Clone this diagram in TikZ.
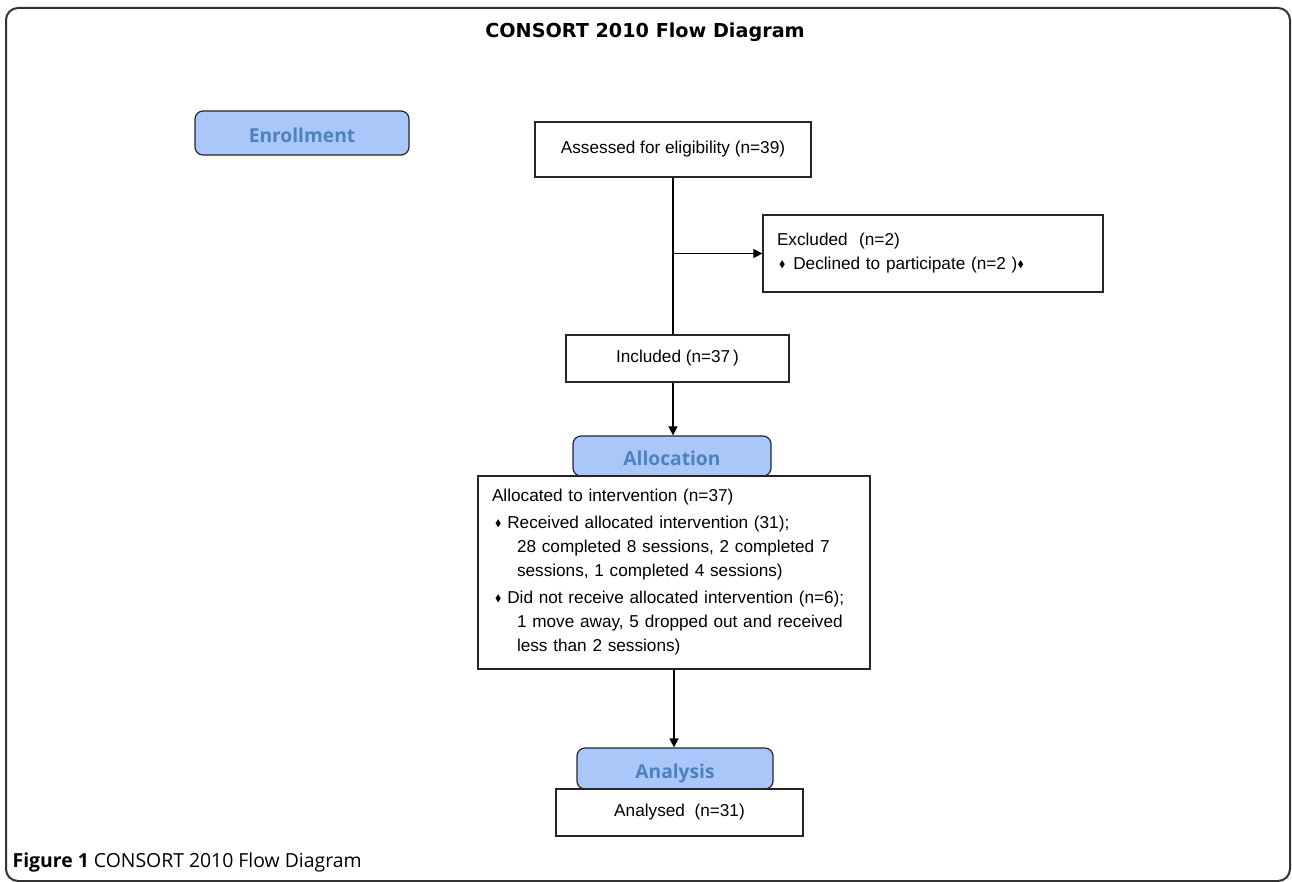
\documentclass[tikz,border=0pt]{standalone}
\usepackage{fontspec}
\usepackage{amssymb}
\setmainfont{Liberation Sans}
\newfontfamily\headfont{Open Sans}
\newfontfamily\titlefont{DejaVu Sans}
\usetikzlibrary{arrows.meta}
\definecolor{stagefill}{RGB}{170,199,250}
\definecolor{stagetext}{RGB}{79,129,189}
\newcommand{\dmd}{\raisebox{0.3ex}{\scalebox{0.55}{$\blacklozenge$}}}

\begin{document}
\begin{tikzpicture}[x=0.5pt,y=-0.5pt,>={Triangle[length=4.5pt,width=4.5pt]},line width=0.6pt,
    box/.style={draw=black!85,inner sep=0pt,font=\fontsize{8.6}{12}\selectfont},
    list box/.style={box,align=left,inner xsep=7pt},
    stage/.style={draw=black!85,rounded corners=4pt,fill=stagefill,text=stagetext,inner sep=0pt,
        text height=10pt,text depth=0pt,font=\headfont\bfseries\fontsize{9.6}{11}\selectfont}]
                \useasboundingbox (0,0) rectangle (1292,882);
                \draw[black!80,line width=1pt,rounded corners=6pt] (6,8) rectangle (1290,881);

                \node[font=\titlefont\bfseries\fontsize{9.6}{11}\selectfont] (title) at (645,32) {CONSORT 2010 Flow Diagram};

                % stages
                \node[stage,minimum width=107pt,minimum height=22pt] (enroll) at (302,133) {Enrollment};
                \node[stage,minimum width=99pt,minimum height=20pt] (alloc) at (672,456) {Allocation};
                \node[stage,minimum width=98pt,minimum height=20.5pt] (analysis) at (675,768.5) {Analysis};

                % boxes
                \node[box,minimum width=138pt,minimum height=27.5pt] (assess) at (673,149.5) {Assessed for eligibility (n=39)};
                \node[list box,text width=156pt,minimum height=38.5pt] (excl) at (933,253.5)
                    {Excluded\ \ (n=2)\\
                     \hspace*{1pt}\dmd\hspace{4pt}Declined to participate (n=2 )\dmd};
                \node[box,minimum width=111.5pt,minimum height=23.5pt] (incl) at (677.5,358.5) {Included (n=37\,)};
                \node[list box,text width=182pt,minimum height=96.5pt] (allocbox) at (674,572.5)
                    {Allocated to intervention (n=37)\\[1.5pt]
                     \hspace*{1.5pt}\dmd\hspace{3pt}Received allocated intervention (31);\\
                     \hspace*{12.5pt}28 completed 8 sessions, 2 completed 7\\
                     \hspace*{12.5pt}sessions, 1 completed 4 sessions)\\[1.5pt]
                     \hspace*{1.5pt}\dmd\hspace{3pt}Did not receive allocated intervention (n=6);\\
                     \hspace*{12.5pt}1 move away, 5 dropped out and received\\
                     \hspace*{12.5pt}less than 2 sessions)};
                \node[box,minimum width=123.5pt,minimum height=23.5pt] (analysed) at (679.5,812.5) {Analysed\ \ (n=31)};

                \node[anchor=west,inner sep=0pt,font=\headfont\fontsize{9.7}{11}\selectfont] (caption) at (12,862)
                    {{\bfseries Figure 1} CONSORT 2010 Flow Diagram};

                \path
                    (assess.south) edge (assess.south |- incl.north)
                ;
                \path[->]
                    (assess.south |- excl.west) edge (excl.west)
                    (incl.south -| assess.south) edge (alloc.north -| assess.south)
                    (allocbox.south) edge (allocbox.south |- analysis.north)
                ;
            \end{tikzpicture}
\end{document}
